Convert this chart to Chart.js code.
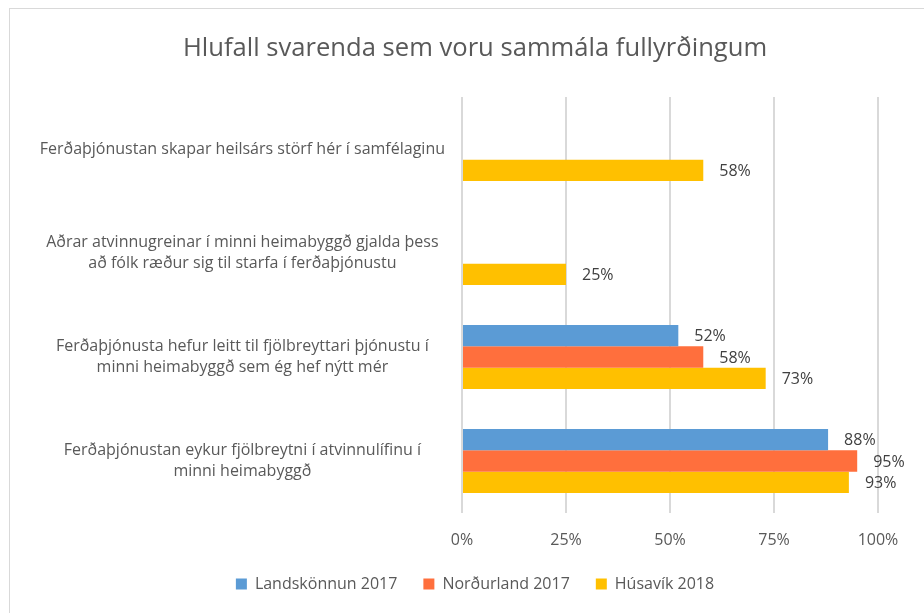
<!DOCTYPE html>
<html>
<head>
<meta charset="utf-8">
<script src="https://cdn.jsdelivr.net/npm/chart.js@4.4.1/dist/chart.umd.min.js"></script>
<style>
  html, body { margin: 0; padding: 0; background: #fff; overflow: hidden; }
  #box {
    position: absolute; left: 9px; top: 8px;
    width: 930px; height: 620px;
    border: 1px solid #d9d9d9; background: #fff;
  }
  #box canvas { display: block; }
</style>
</head>
<body>
<div id="box"><canvas id="chart" width="930" height="604"></canvas></div>
<script>
// Flokkar (fullyrðingar) og gildi hverrar könnunar, í %
const categories = [
    "Ferðaþjónustan skapar heilsárs störf hér í samfélaginu",
    ["Aðrar atvinnugreinar í minni heimabyggð gjalda þess", "að fólk ræður sig til starfa í ferðaþjónustu"],
    ["Ferðaþjónusta hefur leitt til fjölbreyttari þjónustu í", "minni heimabyggð sem ég hef nýtt mér"],
    ["Ferðaþjónustan eykur fjölbreytni í atvinnulífinu í", "minni heimabyggð"]
];
const seriesNames = ["Landskönnun 2017", "Norðurland 2017", "Húsavík 2018"];
const landskonnun = [null, null, 52, 88];
const nordurland = [null, null, 58, 95];
const husavik = [58, 25, 73, 93];
const xTicks = [0, 25, 50, 75, 100];

const colors = ["#5b9bd5", "#ff6f3d", "#ffc000"];
const FONT = "'Open Sans', sans-serif";

// Gildismerki aftan við hverja súlu
const valueLabels = {
    id: "valueLabels",
    afterDatasetsDraw(chart) {
        const ctx = chart.ctx;
        ctx.save();
        ctx.font = "16px " + FONT;
        ctx.fillStyle = "#404040";
        ctx.textAlign = "left";
        ctx.textBaseline = "middle";
        chart.data.datasets.forEach((ds, i) => {
            const meta = chart.getDatasetMeta(i);
            meta.data.forEach((bar, j) => {
                const v = ds.data[j];
                if (v === null || v === undefined) return;
                ctx.fillText(v + "%", bar.x + 16, bar.y + 1);
            });
        });
        ctx.restore();
    }
};

new Chart(document.getElementById("chart"), {
    type: "bar",
    data: {
        labels: categories,
        datasets: [
            { label: seriesNames[0], data: landskonnun, backgroundColor: colors[0] },
            { label: seriesNames[1], data: nordurland, backgroundColor: colors[1] },
            { label: seriesNames[2], data: husavik, backgroundColor: colors[2] }
        ]
    },
    options: {
        indexAxis: "y",
        responsive: false,
        animation: false,
        categoryPercentage: 0.615,
        barPercentage: 1,
        layout: { padding: { left: 0, right: 0, top: 0, bottom: 11 } },
        plugins: {
            tooltip: { enabled: false },
            title: {
                display: true,
                text: "Hlufall svarenda sem voru sammála fullyrðingum",
                color: "#595959",
                font: { family: FONT, size: 25.6, weight: "normal" },
                padding: { top: 24.6, bottom: 32.7 }
            },
            legend: {
                position: "bottom",
                labels: {
                    color: "#595959",
                    font: { family: FONT, size: 16 },
                    boxWidth: 11,
                    boxHeight: 11,
                    padding: 10,
                    // bil á milli skýringa eins og í frumriti
                    generateLabels(chart) {
                        const items = Chart.defaults.plugins.legend.labels.generateLabels(chart);
                        items.forEach((it, i) => {
                            if (i < items.length - 1) it.text = it.text + "\u2002\u2002";
                        });
                        return items;
                    }
                }
            }
        },
        scales: {
            x: {
                min: 0,
                max: 100,
                afterBuildTicks(scale) { scale.ticks = xTicks.map(v => ({ value: v })); },
                afterFit(scale) { scale.height = 53; },
                ticks: {
                    color: "#595959",
                    font: { family: FONT, size: 16 },
                    padding: 18,
                    callback: v => v + "%"
                },
                grid: { color: "#d9d9d9", lineWidth: 2, drawTicks: false },
                border: { display: false }
            },
            y: {
                afterFit(scale) { scale.width = 452; },
                ticks: {
                    color: "#595959",
                    font: { family: FONT, size: 16, lineHeight: 1.33 },
                    crossAlign: "center",
                    padding: 9
                },
                grid: { display: false },
                border: { display: false }
            },
            // tómur ás hægra megin sem heldur bili við brún
            yRight: {
                type: "category",
                position: "right",
                afterFit(scale) { scale.width = 62; },
                ticks: { display: false },
                grid: { display: false },
                border: { display: false }
            }
        }
    },
    plugins: [valueLabels]
});
</script>
</body>
</html>
